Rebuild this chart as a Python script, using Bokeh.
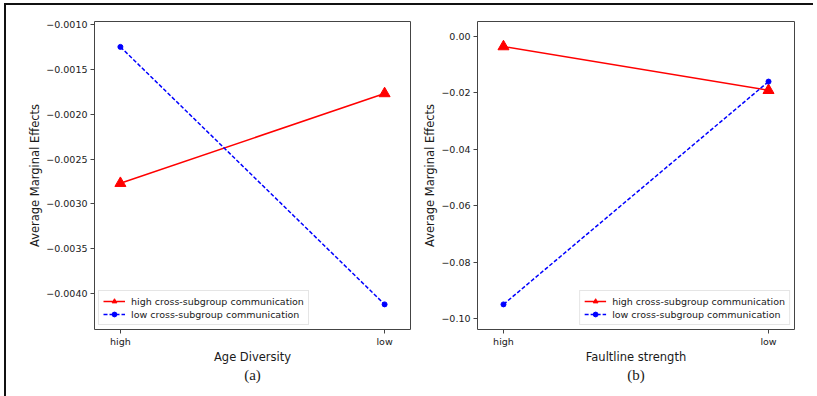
from bokeh.plotting import figure
from bokeh.layouts import row
from bokeh.models import FixedTicker, CustomJSTickFormatter, Range1d, Title
from bokeh.embed import file_html
from bokeh.resources import INLINE

# ---- data ----
categories = ["high", "low"]
x_pos = [0, 1]

age_high_comm = [-0.00277, -0.00177]
age_low_comm = [-0.00125, -0.00412]

fault_high_comm = [-0.0036, -0.0191]
fault_low_comm = [-0.0950, -0.0160]

age_ticks = [-0.0040, -0.0035, -0.0030, -0.0025, -0.0020, -0.0015, -0.0010]
fault_ticks = [-0.10, -0.08, -0.06, -0.04, -0.02, 0.00]

FONT = "DejaVu Sans"
TXT = "#1a1a1a"


def make_fig(high, low, yticks, ydigits, yrange, xlabel, sub, left_border, right_border, legend_loc, fw):
    p = figure(frame_width=fw, frame_height=308, output_backend="svg", toolbar_location=None,
               x_range=Range1d(-0.098, 1.098), y_range=Range1d(*yrange),
               min_border_left=left_border, min_border_right=right_border,
               min_border_top=16, min_border_bottom=67)
    p.grid.visible = False
    p.outline_line_color = "#444444"
    p.outline_line_width = 1
    p.background_fill_color = "white"
    p.border_fill_color = "white"

    p.line(x_pos, high, color="#ff0000", line_width=1.5, legend_label="high cross-subgroup communication")
    p.scatter(x_pos, high, marker="triangle", size=11, color="#ff0000", legend_label="high cross-subgroup communication")
    p.line(x_pos, low, color="#0000ff", line_width=1.5, line_dash="4 2", legend_label="low cross-subgroup communication")
    p.scatter(x_pos, low, marker="circle", size=5, color="#0000ff", legend_label="low cross-subgroup communication")

    p.xaxis.ticker = FixedTicker(ticks=x_pos)
    p.xaxis.major_label_overrides = {i: c for i, c in zip(x_pos, categories)}
    p.yaxis.ticker = FixedTicker(ticks=yticks)
    p.yaxis.formatter = CustomJSTickFormatter(
        code="var s = tick.toFixed(%d); if (Math.abs(tick) < 1e-12) { s = (0).toFixed(%d); } return s.replace('-', '\u2212');" % (ydigits, ydigits))

    for ax in (p.xaxis, p.yaxis):
        ax.axis_line_color = None
        ax.minor_tick_line_color = None
        ax.major_tick_line_color = "#444444"
        ax.major_tick_out = 4
        ax.major_tick_in = 0
        ax.major_label_text_font = FONT
        ax.major_label_text_font_size = "9.5px"
        ax.major_label_text_color = TXT
        ax.axis_label_text_font = FONT
        ax.axis_label_text_font_size = "11.5px"
        ax.axis_label_text_font_style = "normal"
        ax.axis_label_text_color = TXT
    p.xaxis.axis_label = xlabel
    p.yaxis.axis_label = "Average Marginal Effects"
    p.xaxis.major_label_standoff = 2
    p.yaxis.major_label_standoff = 3
    p.xaxis.axis_label_standoff = 0
    p.yaxis.axis_label_standoff = 1

    t = Title(text=sub, align="center", text_font="Liberation Serif", text_font_size="15px",
              text_font_style="normal", text_color=TXT, standoff=-3)
    p.add_layout(t, "below")

    lg = p.legend[0]
    lg.location = legend_loc
    lg.margin = 4
    lg.padding = 4
    lg.spacing = 1
    lg.label_text_font = FONT
    lg.label_text_font_size = "9.5px"
    lg.label_text_color = TXT
    lg.label_height = 12
    lg.glyph_height = 12
    lg.glyph_width = 22
    lg.label_standoff = 6
    lg.border_line_color = "#cccccc"
    lg.border_line_width = 1
    lg.background_fill_alpha = 0.8
    return p


p1 = make_fig(age_high_comm, age_low_comm, age_ticks, 4, (-0.0044, -0.000967),
              "Age Diversity", "(a)", 88, 10, "bottom_left", 316)
p2 = make_fig(fault_high_comm, fault_low_comm, fault_ticks, 2, (-0.1039, 0.0053),
              "Faultline strength", "(b)", 52, 19, "bottom_right", 317)

layout = row(p1, p2, styles={"border-top": "2px solid #111", "border-left": "2px solid #111",
                             "margin-top": "3px", "margin-left": "4px"})
open("out.html", "w").write(file_html(layout, INLINE))
